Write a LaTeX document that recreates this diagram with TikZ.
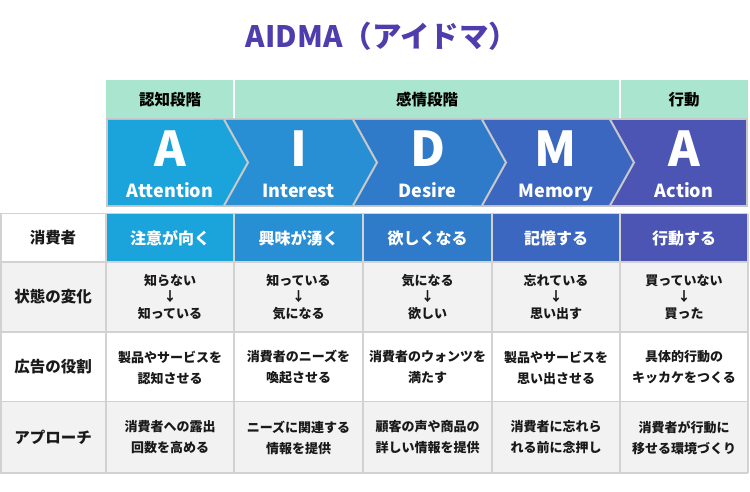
\documentclass[tikz,border=0pt]{standalone}
\usepackage{fontspec}
\setmainfont{Noto Sans CJK JP}
\definecolor{ttl}{HTML}{4F3DAE}
\definecolor{hdr}{HTML}{A9E5CF}
\definecolor{bandgray}{HTML}{C8C8C8}
\definecolor{grid}{HTML}{D2D2D2}
\definecolor{rowgray}{HTML}{F2F2F2}
\definecolor{cA}{HTML}{1BA4DB}
\definecolor{cI}{HTML}{298FD5}
\definecolor{cD}{HTML}{2F7BCA}
\definecolor{cM}{HTML}{3C67C0}
\definecolor{cX}{HTML}{4C55B4}
\tikzset{
  hdrtxt/.style={font=\bfseries\fontsize{15.5}{18}\selectfont, text=black},
  bigl/.style={font=\bfseries\fontsize{48}{50}\selectfont, text=white, anchor=base},
  word/.style={font=\bfseries\fontsize{18}{21}\selectfont, text=white, anchor=base},
  lbl/.style={font=\bfseries\fontsize{15.5}{18}\selectfont, text=black!90},
  wtxt/.style={font=\bfseries\fontsize{16}{19}\selectfont, text=white},
  cell/.style={font=\bfseries\fontsize{13}{21}\selectfont, text=black!90, align=center},
  cellt/.style={font=\bfseries\fontsize{13}{16.5}\selectfont, text=black!90, align=center},
  sep/.style={draw=bandgray, line width=2pt, line join=miter},
  gridline/.style={draw=grid, line width=1.5pt}
}
\begin{document}
\begin{tikzpicture}[x=1pt,y=-1pt]
\useasboundingbox (0,0) rectangle (750,492);
% title
\node[text=ttl, font=\bfseries\fontsize{29.5}{33}\selectfont, anchor=base] (title) at (382,48) {AIDMA（アイドマ）};
% header
\fill[hdr] (106,80) rectangle (748,118);
\draw[white, line width=1.5pt] (234,80) -- (234,118) (620,80) -- (620,118);
\node[hdrtxt] (h1) at (170,99.5) {認知段階};
\node[hdrtxt] (h2) at (427,99.5) {感情段階};
\node[hdrtxt] (h3) at (684,99.5) {行動};
% chevron band
\fill[bandgray] (106,118.5) rectangle (748,207);
\fill[cX] (600,120) rectangle (746,205);
\fill[cM] (472,120) -- (610,120) -- (634,162.5) -- (610,205) -- (472,205) -- cycle;
\fill[cD] (343,120) -- (482,120) -- (506,162.5) -- (482,205) -- (343,205) -- cycle;
\fill[cI] (214,120) -- (353,120) -- (377,162.5) -- (353,205) -- (214,205) -- cycle;
\fill[cA] (108,120) -- (224,120) -- (248,162.5) -- (224,205) -- (108,205) -- cycle;
\foreach \b in {224,353,482,610}{
  \draw[sep] (\b,119.5) -- (\b+24,162.5) -- (\b,205.5);
}
\foreach \x/\l/\w/\n in {170/A/Attention/a1, 298.5/I/Interest/i1, 427.5/D/Desire/d1, 556/M/Memory/m1, 684/A/Action/a2}{
  \node[bigl] (L\n) at (\x,167) {\l};
  \node[word] (W\n) at (\x,197) {\w};
}
% table fills
\fill[cA] (106,213.5) rectangle (234,262);
\fill[cI] (234,213.5) rectangle (363,262);
\fill[cD] (363,213.5) rectangle (492,262);
\fill[cM] (492,213.5) rectangle (620,262);
\fill[cX] (620,213.5) rectangle (748,262);
\fill[rowgray] (0,262) rectangle (748,332);
\fill[rowgray] (0,401.5) rectangle (748,473);
% grid
\foreach \y in {213.5,262,332,401.5,473}{
  \draw[gridline] (0,\y) -- (748,\y);
}
\foreach \x in {0.75,106,234,363,492,620,748}{
  \draw[gridline] (\x,213.5) -- (\x,473);
}
% labels
\node[lbl] (r1) at (53,238) {消費者};
\node[lbl] (r2) at (53,297) {状態の変化};
\node[lbl] (r3) at (53,367) {広告の役割};
\node[lbl] (r4) at (53,437) {アプローチ};
% row 1
\node[wtxt] (c11) at (170,238) {注意が向く};
\node[wtxt] (c12) at (298.5,238) {興味が湧く};
\node[wtxt] (c13) at (427.5,238) {欲しくなる};
\node[wtxt] (c14) at (556,238) {記憶する};
\node[wtxt] (c15) at (684,238) {行動する};
% row 2
\node[cellt] (c21) at (170,297) {知らない\\↓\\知っている};
\node[cellt] (c22) at (298.5,297) {知っている\\↓\\気になる};
\node[cellt] (c23) at (427.5,297) {気になる\\↓\\欲しい};
\node[cellt] (c24) at (556,297) {忘れている\\↓\\思い出す};
\node[cellt] (c25) at (684,297) {買っていない\\↓\\買った};
% row 3
\node[cell] (c31) at (170,367.5) {製品やサービスを\\認知させる};
\node[cell] (c32) at (298.5,367.5) {消費者のニーズを\\喚起させる};
\node[cell] (c33) at (427.5,367.5) {消費者のウォンツを\\満たす};
\node[cell] (c34) at (556,367.5) {製品やサービスを\\思い出させる};
\node[cell] (c35) at (684,367.5) {具体的行動の\\キッカケをつくる};
% row 4
\node[cell] (c41) at (170,437.5) {消費者への露出\\回数を高める};
\node[cell] (c42) at (298.5,437.5) {ニーズに関連する\\情報を提供};
\node[cell] (c43) at (427.5,437.5) {顧客の声や商品の\\詳しい情報を提供};
\node[cell] (c44) at (556,437.5) {消費者に忘れら\\れる前に念押し};
\node[cell] (c45) at (684,437.5) {消費者が行動に\\移せる環境づくり};
\end{tikzpicture}
\end{document}
